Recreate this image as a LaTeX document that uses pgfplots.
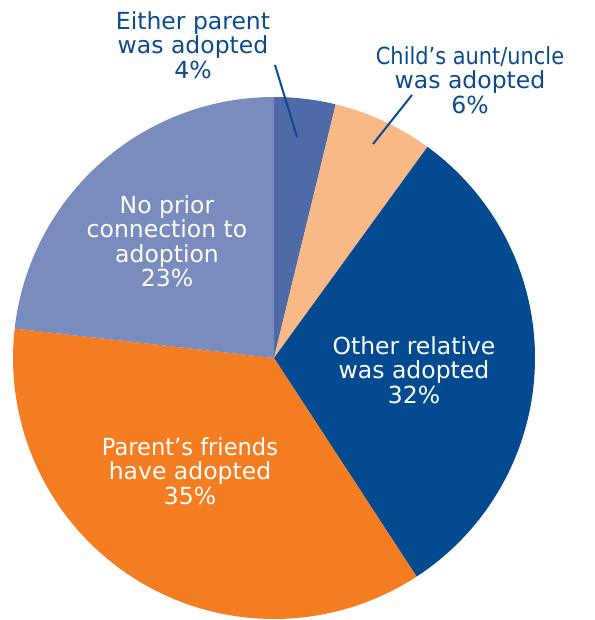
\documentclass[border=0pt]{standalone}
\usepackage{pgfplots}
\usepackage{graphicx}
\pgfplotsset{compat=1.18}
\usepackage{fontspec}
\setmainfont{DejaVu Sans}
\definecolor{cA}{HTML}{4E6BA8}
\definecolor{cB}{HTML}{F9B987}
\definecolor{cC}{HTML}{034A91}
\definecolor{cD}{HTML}{F47D22}
\definecolor{cE}{HTML}{7A8BBE}
\definecolor{tblue}{HTML}{0B4A8F}
\begin{document}
\begin{tikzpicture}
\begin{axis}[width=594pt,height=620pt,scale only axis,hide axis,
  xmin=0,xmax=594,ymin=0,ymax=620,clip=false]
\def\cx{274}\def\cy{262}\def\r{261}
\def\cum{0}
\pgfplotsforeachungrouped \v/\c in {3.8/cA,6.2/cB,30.8/cC,36.0/cD,23.2/cE}{%
  \pgfmathsetmacro\aEnd{90-3.6*\cum}%
  \pgfmathsetmacro\newcum{\cum+\v}%
  \pgfmathsetmacro\aStart{90-3.6*\newcum}%
  \let\cum\newcum
  \edef\temp{\noexpand\addplot[fill=\c,draw=none,domain=\aStart:\aEnd,samples=90]
    ({\cx+\r*cos(\noexpand\x)},{\cy+\r*sin(\noexpand\x)}) -- (axis cs:\cx,\cy) -- cycle;}%
  \temp
}
\addplot[tblue,line width=2pt] coordinates {(275,555) (297,483)};
\addplot[tblue,line width=2pt] coordinates {(412,525) (373,476)};
\tikzset{lbl/.style={align=center,font=\fontsize{23.5}{24.5}\selectfont,inner sep=0pt}}
\node[lbl,text=tblue] at (axis cs:193,575) {Either parent\\was adopted\\4\%};
\node[lbl,text=tblue] at (axis cs:470,540) {\scalebox{0.89}[1]{Child’s aunt/uncle}\\was adopted\\6\%};
\node[lbl,text=white] at (axis cs:414,250) {Other relative\\was adopted\\32\%};
\node[lbl,text=white] at (axis cs:190,149) {\scalebox{0.96}[1]{Parent’s friends}\\have adopted\\35\%};
\node[lbl,text=white] at (axis cs:167,379) {No prior\\connection to\\adoption\\23\%};
\path (rel axis cs:0,0) rectangle (rel axis cs:1,1);
\end{axis}
\end{tikzpicture}
\end{document}
